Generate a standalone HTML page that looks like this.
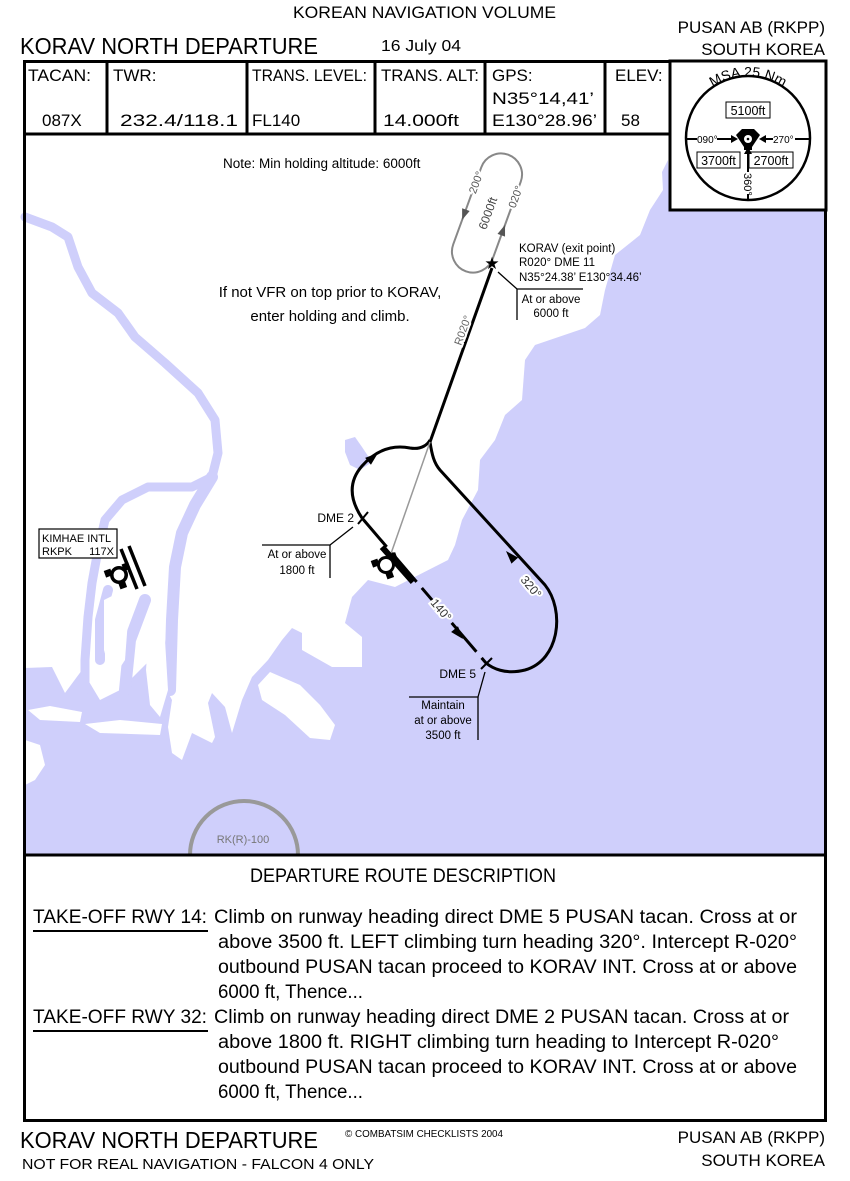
<!DOCTYPE html>
<html><head><meta charset="utf-8"><style>
html,body{margin:0;padding:0;background:#fff}
svg{display:block}
text{font-family:"Liberation Sans",sans-serif;fill:#000}
.halo{paint-order:stroke;stroke:#fff;stroke-width:4px}
</style></head><body>
<svg width="850" height="1181" viewBox="0 0 850 1181" xmlns="http://www.w3.org/2000/svg">
<!-- map background -->
<g fill="#cfcffb">
<polygon points="825,210 670,210 668,160 662,172 663,190 650,210 640,235 615,255 605,290 600,315 585,328 535,345 525,360 522,400 505,415 495,440 480,460 478,490 462,520 455,545 448,560 395,587 368,580 352,597 345,623 362,637 362,667 332,667 302,650 302,633 292,628 282,640 268,660 252,677 242,700 232,733 225,707 212,693 208,703 215,737 212,743 192,733 182,760 172,753 168,727 172,700 165,687 168,660 165,640 150,660 120,690 100,700 82,670 65,693 52,667 25,668 25,855 825,855"/>
<polygon points="345,440 355,437 362,447 372,462 360,470 350,465 345,452"/>
</g>
<g fill="none" stroke="#cfcffb" stroke-linejoin="round" stroke-linecap="round">
<polyline stroke-width="9" points="25,217 52,227 68,237 78,267 92,293 118,313 135,337 165,363 198,393 215,420 218,453 212,477 192,487 148,487 122,500 105,520 98,550 92,583 88,617 85,660 85,690"/>
<polyline stroke-width="12" points="212,477 195,505 182,533 175,567 172,620 170,690"/>
<polyline stroke-width="10" points="108,590 100,620 100,660"/>
<polyline stroke-width="12" points="145,600 130,640 125,690"/>
</g>
<g fill="#fff">
<polygon points="28,710 50,706 82,712 80,722 40,720"/>
<polygon points="85,724 120,720 162,724 160,735 100,733"/>
<polygon points="25,740 40,745 45,765 35,780 25,785"/>
<polygon points="258,685 270,672 300,685 320,705 335,725 330,740 310,738 285,715 262,700"/>
<polygon points="104,600 120,592 128,620 125,660 112,680 104,650"/>
<polygon points="148,642 165,640 168,690 160,717 150,705 146,670"/>
</g>
<!-- RK(R)-100 -->
<path d="M190,855 A54,54 0 0 1 298,855" fill="none" stroke="#999" stroke-width="4"/>
<text x="243" y="843" font-size="11" text-anchor="middle" style="fill:#777">RK(R)-100</text>

<!-- holding pattern -->
<g transform="translate(487,213) rotate(20)">
<rect x="-21" y="-62" width="42" height="124" rx="21" ry="21" fill="none" stroke="#888" stroke-width="2"/>
<polygon points="-25,4 -17,4 -21,15" fill="#555"/>
<polygon points="17,16 25,16 21,5" fill="#555"/>
<text class="halo" transform="translate(-17,-25) rotate(-90)" font-size="11" text-anchor="middle" style="fill:#555">200°</text>
<text transform="translate(5,0) rotate(-90)" font-size="12" text-anchor="middle" style="fill:#444">6000ft</text>
<text class="halo" transform="translate(25,-25) rotate(-90)" font-size="11" text-anchor="middle" style="fill:#555">020°</text>
</g>
<!-- route -->
<g fill="none" stroke="#000" stroke-width="3">
<line x1="430" y1="442" x2="492" y2="268"/>
<path d="M362,518 C350,500 348,482 362,466 C378,448 395,445 410,448 C422,450 428,444 430,440"/>
<path d="M430,442 C432,455 434,463 440,470 L545,585 C565,610 560,660 525,670 C505,675 492,668 486,663"/>
<line x1="362" y1="518" x2="486" y2="663" stroke-dasharray="38,8"/>
</g>
<line x1="430" y1="442" x2="387" y2="565" stroke="#999" stroke-width="1.5"/>
<line x1="358" y1="524" x2="368" y2="512" stroke="#000" stroke-width="2"/>
<line x1="481" y1="669" x2="492" y2="658" stroke="#000" stroke-width="2"/>
<polygon points="0,0 -13,-4.5 -13,4.5" fill="#000" transform="translate(378,453) rotate(-40)"/>
<polygon points="0,0 -13,-4.5 -13,4.5" fill="#000" transform="translate(463,639) rotate(49.5)"/>
<polygon points="0,0 -13,-4.5 -13,4.5" fill="#000" transform="translate(506,551) rotate(-132.4)"/>
<text x="492" y="269" font-size="17" text-anchor="middle">★</text>
<text class="halo" transform="translate(461,346) rotate(-70)" font-size="11" style="fill:#666">R020°</text>
<text class="halo" transform="translate(520,580) rotate(50)" font-size="12" style="fill:#333">320°</text>
<text class="halo" transform="translate(430,603) rotate(50)" font-size="12" style="fill:#333">140°</text>
<!-- tacan symbols -->
<line x1="382" y1="547" x2="413" y2="582" stroke="#000" stroke-width="6"/>
<g transform="translate(386,565) rotate(-20)">
<circle r="9" fill="#000"/>
<rect x="-13" y="-9" width="7" height="7" fill="#000"/><rect x="6" y="-9" width="7" height="7" fill="#000"/><rect x="-3.5" y="7" width="7" height="7" fill="#000"/>
<circle r="6" fill="#fff"/>
</g>
<g transform="translate(119,575) rotate(-20)">
<circle r="9" fill="#000"/>
<rect x="-13" y="-9" width="7" height="7" fill="#000"/><rect x="6" y="-9" width="7" height="7" fill="#000"/><rect x="-3.5" y="7" width="7" height="7" fill="#000"/>
<circle r="5.5" fill="#fff"/>
</g>
<line x1="121" y1="549" x2="137" y2="589" stroke="#000" stroke-width="3.5"/>
<line x1="129" y1="546" x2="145" y2="586" stroke="#000" stroke-width="3.5"/>
<!-- map labels -->
<text x="223" y="168" font-size="13.5">Note: Min holding altitude: 6000ft</text>
<text x="330" y="297" font-size="15" text-anchor="middle">If not VFR on top prior to KORAV,</text>
<text x="330" y="321" font-size="15" text-anchor="middle">enter holding and climb.</text>
<text x="519" y="252" font-size="11.5">KORAV (exit point)</text>
<text x="519" y="266" font-size="11.5">R020° DME 11</text>
<text x="519" y="281" font-size="11.5">N35°24.38’ E130°34.46’</text>
<g stroke="#000" stroke-width="1.3" fill="none">
<polyline points="498,272 517,289 583,289"/><line x1="517" y1="289" x2="517" y2="320"/>
<polyline points="353,527 330,545 262,545"/><line x1="330" y1="545" x2="330" y2="578"/>
<polyline points="485,672 478,697 409,697"/><line x1="478" y1="697" x2="478" y2="740"/>
</g>
<text x="551" y="303" font-size="11.5" text-anchor="middle">At or above</text>
<text x="551" y="317" font-size="11.5" text-anchor="middle">6000 ft</text>
<text x="354" y="522" font-size="12" text-anchor="end">DME 2</text>
<text x="297" y="558" font-size="11.5" text-anchor="middle">At or above</text>
<text x="297" y="574" font-size="11.5" text-anchor="middle">1800 ft</text>
<text x="476" y="678" font-size="12" text-anchor="end">DME 5</text>
<text x="443" y="709" font-size="11.5" text-anchor="middle">Maintain</text>
<text x="443" y="724" font-size="11.5" text-anchor="middle">at or above</text>
<text x="443" y="739" font-size="11.5" text-anchor="middle">3500 ft</text>
<rect x="39" y="529" width="78" height="29" fill="#fff" stroke="#000" stroke-width="1.2"/>
<text x="42" y="542" font-size="11">KIMHAE INTL</text>
<text x="42" y="555" font-size="11">RKPK</text><text x="114" y="555" font-size="11" text-anchor="end">117X</text>

<!-- frame -->
<g fill="none" stroke="#000">
<rect x="24.5" y="61.5" width="801" height="1059" stroke-width="3"/>
<line x1="24" y1="134" x2="672" y2="134" stroke-width="3"/>
<line x1="24" y1="855" x2="826" y2="855" stroke-width="3"/>
<line x1="107" y1="61" x2="107" y2="134" stroke-width="3"/>
<line x1="247" y1="61" x2="247" y2="134" stroke-width="3"/>
<line x1="375" y1="61" x2="375" y2="134" stroke-width="3"/>
<line x1="485" y1="61" x2="485" y2="134" stroke-width="3"/>
<line x1="605" y1="61" x2="605" y2="134" stroke-width="3"/>
</g>
<rect x="670" y="61" width="156" height="149" fill="#fff" stroke="#000" stroke-width="3"/>
<!-- MSA -->
<circle cx="748" cy="138" r="62" fill="none" stroke="#000" stroke-width="2.5"/>
<path id="arc" d="M702,96 A64,64 0 0 1 794,96" fill="none"/>
<text font-size="14"><textPath href="#arc" startOffset="50%" text-anchor="middle">MSA 25 Nm</textPath></text>
<g stroke="#000" stroke-width="2">
<line x1="686" y1="139" x2="697" y2="139"/><line x1="717" y1="139" x2="734" y2="139"/>
<line x1="762" y1="139" x2="773" y2="139"/><line x1="795" y1="139" x2="810" y2="139"/>
<line x1="748" y1="150" x2="748" y2="172"/><line x1="748" y1="194" x2="748" y2="200"/>
</g>
<polygon points="738,139 731,135 731,143" fill="#000"/><polygon points="759,139 766,135 766,143" fill="#000"/>
<polygon points="748,147 744,154 752,154" fill="#000"/>
<g transform="translate(748,139)">
<polygon points="-12,-4 -6,-10 6,-10 12,-4 4,8 -4,8" fill="#000"/>
<rect x="-4" y="4" width="8" height="7" fill="#000"/>
<circle r="4" fill="#fff"/><circle r="1.3" fill="#000"/>
</g>
<text x="697" y="143" font-size="10">090°</text>
<text x="773" y="143" font-size="10">270°</text>
<text transform="translate(744,173) rotate(90)" font-size="11">360°</text>
<rect x="726" y="102" width="44" height="16" fill="none" stroke="#000"/>
<text x="748" y="115" font-size="12.5" text-anchor="middle">5100ft</text>
<rect x="697" y="152" width="43" height="16" fill="none" stroke="#000"/>
<text x="718.5" y="165" font-size="12.5" text-anchor="middle">3700ft</text>
<rect x="749" y="152" width="44" height="16" fill="none" stroke="#000"/>
<text x="771" y="165" font-size="12.5" text-anchor="middle">2700ft</text>

<!-- header -->
<text x="293" y="18" font-size="17" textLength="263" lengthAdjust="spacingAndGlyphs">KOREAN NAVIGATION VOLUME</text>
<text x="20" y="54" font-size="23" textLength="298" lengthAdjust="spacingAndGlyphs">KORAV NORTH DEPARTURE</text>
<text x="381" y="51" font-size="16" textLength="80" lengthAdjust="spacingAndGlyphs">16 July 04</text>
<text x="825" y="33" font-size="17" text-anchor="end">PUSAN AB (RKPP)</text>
<text x="825" y="55" font-size="17" text-anchor="end">SOUTH KOREA</text>
<g font-size="17">
<text x="28" y="81" textLength="63" lengthAdjust="spacingAndGlyphs">TACAN:</text>
<text x="113" y="81">TWR:</text>
<text x="252" y="81" textLength="115" lengthAdjust="spacingAndGlyphs">TRANS. LEVEL:</text>
<text x="381" y="81" textLength="98" lengthAdjust="spacingAndGlyphs">TRANS. ALT:</text>
<text x="492" y="81">GPS:</text>
<text x="615" y="81">ELEV:</text>
<text x="42" y="126">087X</text>
<text x="120" y="126" textLength="118" lengthAdjust="spacingAndGlyphs">232.4/118.1</text>
<text x="252" y="126">FL140</text>
<text x="383" y="126" textLength="76" lengthAdjust="spacingAndGlyphs">14.000ft</text>
<text x="492" y="104" textLength="102" lengthAdjust="spacingAndGlyphs">N35°14,41’</text>
<text x="492" y="126" textLength="105" lengthAdjust="spacingAndGlyphs">E130°28.96’</text>
<text x="621" y="126">58</text>
</g>
<!-- description -->
<text x="403" y="882" font-size="19" text-anchor="middle" textLength="306" lengthAdjust="spacingAndGlyphs">DEPARTURE ROUTE DESCRIPTION</text>
<g font-size="19">
<text x="33" y="923" textLength="174" lengthAdjust="spacingAndGlyphs">TAKE-OFF RWY 14:</text>
<text x="214" y="923" textLength="583" lengthAdjust="spacingAndGlyphs">Climb on runway heading direct DME 5 PUSAN tacan. Cross at or</text>
<text x="218" y="948" textLength="579" lengthAdjust="spacingAndGlyphs">above 3500 ft. LEFT climbing turn heading 320°. Intercept R-020°</text>
<text x="218" y="973" textLength="579" lengthAdjust="spacingAndGlyphs">outbound PUSAN tacan proceed to KORAV INT. Cross at or above</text>
<text x="218" y="998" textLength="145" lengthAdjust="spacingAndGlyphs">6000 ft, Thence...</text>
<text x="33" y="1023" textLength="174" lengthAdjust="spacingAndGlyphs">TAKE-OFF RWY 32:</text>
<text x="214" y="1023" textLength="575" lengthAdjust="spacingAndGlyphs">Climb on runway heading direct DME 2 PUSAN tacan. Cross at or</text>
<text x="218" y="1048" textLength="561" lengthAdjust="spacingAndGlyphs">above 1800 ft. RIGHT climbing turn heading to Intercept R-020°</text>
<text x="218" y="1073" textLength="579" lengthAdjust="spacingAndGlyphs">outbound PUSAN tacan proceed to KORAV INT. Cross at or above</text>
<text x="218" y="1098" textLength="145" lengthAdjust="spacingAndGlyphs">6000 ft, Thence...</text>
</g>
<line x1="33" y1="931" x2="208" y2="931" stroke="#000" stroke-width="2"/>
<line x1="33" y1="1031" x2="208" y2="1031" stroke="#000" stroke-width="2"/>
<!-- footer -->
<text x="20" y="1148" font-size="23" textLength="298" lengthAdjust="spacingAndGlyphs">KORAV NORTH DEPARTURE</text>
<text x="22" y="1169" font-size="15" textLength="352" lengthAdjust="spacingAndGlyphs">NOT FOR REAL NAVIGATION - FALCON 4 ONLY</text>
<text x="345" y="1137" font-size="10" textLength="158" lengthAdjust="spacingAndGlyphs">© COMBATSIM CHECKLISTS 2004</text>
<text x="825" y="1143" font-size="17" text-anchor="end">PUSAN AB (RKPP)</text>
<text x="825" y="1166" font-size="17" text-anchor="end">SOUTH KOREA</text>
</svg>
</body></html>
